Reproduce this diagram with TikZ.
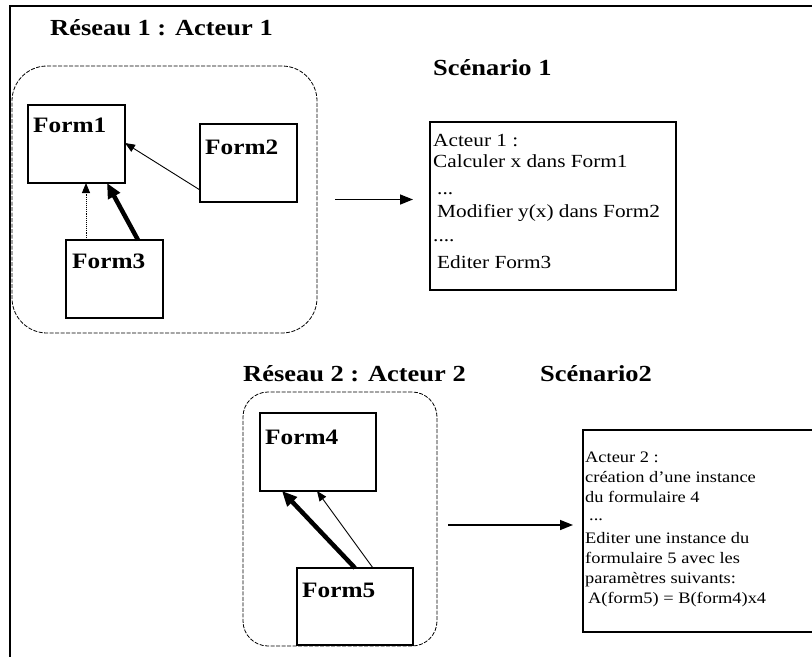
\documentclass[tikz,border=0pt]{standalone}
\usepackage{fontspec}
\setmainfont{Liberation Serif}[FakeStretch=1.15]
\usetikzlibrary{arrows.meta,calc}
\begin{document}
\begin{tikzpicture}[x=1pt,y=-1pt,
  heading/.style={font=\bfseries\fontsize{23}{27}\selectfont, inner sep=0pt, anchor=base west},
  formbox/.style={draw, line width=1.8pt, minimum width=97pt, minimum height=78pt,
    anchor=north west, inner sep=0pt, outer sep=0pt},
  formlabel/.style={font=\bfseries\fontsize{22}{26}\selectfont, inner sep=0pt, anchor=base west},
  group/.style={draw, line width=0.8pt, dash pattern=on 4pt off 1.5pt,
    anchor=north west, inner sep=0pt, outer sep=0pt},
  scenbox/.style={draw, line width=1.8pt, anchor=north west, inner sep=0pt, outer sep=0pt},
  % the base anchor of a multi-line node sits on its last line
  scentext/.style={inner sep=0pt, anchor=base west, align=left},
  link/.style={-{Triangle[length=10pt,width=8pt]}, line width=0.9pt},
  strong/.style={-{Triangle[length=15pt,width=13pt]}, line width=4.5pt},
  weak/.style={-{Triangle[length=10pt,width=8pt]}, line width=0.9pt, densely dotted},
  flow/.style={-{Triangle[length=13pt,width=10pt]}, line width=1.5pt},
]
\useasboundingbox (0,0) rectangle (812,657);
\fill[white] (0,0) rectangle (812,657);

% page frame
\draw[line width=1.5pt] (812,6) -- (10,6) -- (10,657);

% network 1
\node[heading] (t1) at (50,35) {Réseau 1 : Acteur 1};
\node[group, rounded corners=35pt, minimum width=305pt, minimum height=267pt] (r1) at (12,66) {};
\node[formbox] (f1) at (28,105) {};
\node[formbox] (f2) at (200,124) {};
\node[formbox] (f3) at (66,240) {};
\node[formlabel] (f1l) at ([xshift=5pt,yshift=-27pt]f1.north west) {Form1};
\node[formlabel] (f2l) at ([xshift=5pt,yshift=-30pt]f2.north west) {Form2};
\node[formlabel] (f3l) at ([xshift=6pt,yshift=-28pt]f3.north west) {Form3};
\draw[link] ([yshift=12pt]f2.south west) -- ([yshift=40pt]f1.south east);
\draw[weak] ([xshift=20pt]f3.north west) -- ([xshift=58pt]f1.south west);
\draw[strong] ([xshift=72pt]f3.north west) -- ([xshift=79pt]f1.south west);

% scenario 1
\node[heading] (t2) at (433,75) {Scénario 1};
\node[scenbox, minimum width=246pt, minimum height=168pt] (s1) at (430,122) {};
\node[scentext, font=\fontsize{18.5}{21}\selectfont] (s1t) at ([xshift=3pt,yshift=-146pt]s1.north west)
  {Acteur 1 :\\Calculer x dans Form1\\[6pt]\hspace{4pt}...\\[2pt]\hspace{4pt}Modifier y(x) dans Form2\\[3pt]....\\[6pt]\hspace{4pt}Editer Form3};
\draw[flow, shorten <=18pt, shorten >=17pt] (r1.east) -- (r1.east -| s1.west);

% network 2
\node[heading] (t3) at (243,381) {Réseau 2 : Acteur 2};
\node[group, rounded corners=25pt, minimum width=194pt, minimum height=254pt] (r2) at (243,392) {};
\node[formbox, minimum width=116pt, minimum height=78pt] (f4) at (260,413) {};
\node[formbox, minimum width=116pt, minimum height=77pt] (f5) at (297,568) {};
\node[formlabel] (f4l) at ([xshift=5pt,yshift=-31pt]f4.north west) {Form4};
\node[formlabel] (f5l) at ([xshift=5pt,yshift=-29pt]f5.north west) {Form5};
\draw[strong] ([xshift=58pt]f5.north west) -- ([xshift=22pt]f4.south west);
\draw[link] ([xshift=76pt]f5.north west) -- ([xshift=57pt]f4.south west);

% scenario 2
\node[heading] (t4) at (540,381) {Scénario2};
\node[scenbox, minimum width=250pt, minimum height=202pt] (s2) at (583,430) {};
\node[scentext, font=\fontsize{16}{20}\selectfont] (s2t) at ([xshift=2pt,yshift=-173pt]s2.north west)
  {Acteur 2 :\\création d’une instance\\du formulaire 4\\[-2pt]\hspace{4pt}...\\[3pt]Editer une instance du\\formulaire 5 avec les\\paramètres suivants:\\\hspace{3pt}A(form5) = B(form4)x4};
\draw[flow, shorten <=11pt, shorten >=10pt] ([yshift=-6pt]r2.east) -- ([yshift=-6pt]r2.east -| s2.west);
\end{tikzpicture}
\end{document}
